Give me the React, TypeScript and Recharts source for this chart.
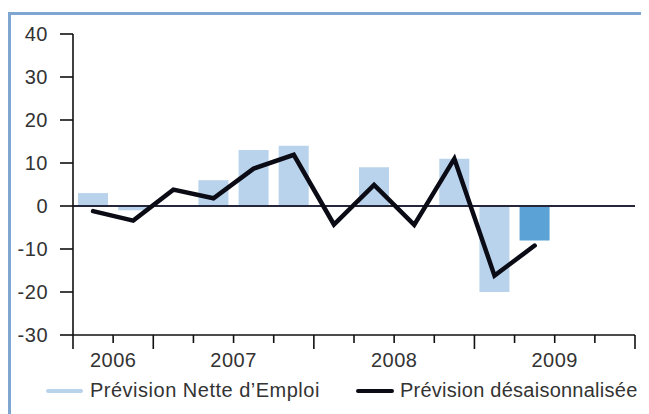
import React from 'react';
import { ComposedChart, Bar, Line, XAxis, YAxis, ReferenceLine, Legend, Cell } from 'recharts';

const quarters = ['T3 2006', 'T4 2006', 'T1 2007', 'T2 2007', 'T3 2007', 'T4 2007', 'T1 2008', 'T2 2008', 'T3 2008', 'T4 2008', 'T1 2009', 'T2 2009', 'T3 2009', 'T4 2009'];
const netForecast: (number | null)[] = [3, -1, null, 6, 13, 14, null, 9, null, 11, -20, -8, null, null];
const seasonalAdjusted: (number | null)[] = [-1.2, -3.4, 3.8, 1.8, 8.7, 11.9, -4.3, 4.9, -4.4, 11, -16.2, -9.2, null, null];
const currentIndex = 11;
const xTicks = [0, 1, 2, 3, 4, 5, 6, 7, 8, 9, 10, 11, 12, 13, 14];
const yearBoundaryTicks = [0, 2, 6, 10, 14];
const yearLabels: Record<number, string> = { 1: '2006', 4: '2007', 8: '2008', 12: '2009' };
const yTicks = [-30, -20, -10, 0, 10, 20, 30, 40];
const seriesNames = ['Prévision Nette d\u2019Emploi', 'Prévision désaisonnalisée'];

const data = quarters.map((q, i) => ({
  q,
  x: i + 0.5,
  net: netForecast[i],
  adj: seasonalAdjusted[i],
}));

const FONT = '"Liberation Sans", Arial, sans-serif';
const LIGHT = '#b8d3eb';
const DARK_BAR = '#5ba2d6';
const LINE = '#0b0b16';
const TEXT = '#333333';

const XTick = (props: any) => {
  const { x, y, payload } = props;
  const v = payload.value;
  const long = yearBoundaryTicks.includes(v);
  const label = yearLabels[v];
  return (
    <g>
      <line x1={x} x2={x} y1={y} y2={y + (long ? 14 : 8)} stroke="#111" strokeWidth={1.6} />
      {label ? (
        <text x={x} y={y + 32} textAnchor="middle" fontSize={20} fontFamily={FONT} fill={TEXT} style={{ letterSpacing: 0.5 }}>
          {label}
        </text>
      ) : null}
    </g>
  );
};

const LegendContent = () => (
  <div style={{ position: 'relative', height: 31, width: 641, fontFamily: FONT, fontSize: 20, color: TEXT }}>
    <div style={{ position: 'absolute', left: 38, top: 14, width: 37, height: 4, background: LIGHT, borderRadius: 2 }} />
    <div style={{ position: 'absolute', left: 82, top: 3, lineHeight: '24px', whiteSpace: 'nowrap', letterSpacing: 0.5 }}>{seriesNames[0]}</div>
    <div style={{ position: 'absolute', left: 348, top: 14, width: 38, height: 4, background: LINE, borderRadius: 2 }} />
    <div style={{ position: 'absolute', left: 392, top: 3, lineHeight: '24px', whiteSpace: 'nowrap', letterSpacing: 0.25 }}>{seriesNames[1]}</div>
  </div>
);

export default function App() {
  return (
    <div style={{ position: 'relative', width: 641, height: 406, overflow: 'hidden', background: '#fff' }}>
      <div
        style={{
          position: 'absolute',
          left: 0,
          top: 4,
          width: 700,
          height: 500,
          borderTop: '3px solid #7ea6d0',
          borderLeft: '3px solid #7ea6d0',
          boxSizing: 'border-box',
        }}
      />
      <div style={{ position: 'absolute', left: 0, top: 0 }}>
        <ComposedChart width={641} height={398} data={data} margin={{ top: 26, right: 14, bottom: 0, left: 0 }}>
          <XAxis
            type="number"
            dataKey="x"
            domain={[0, 14]}
            ticks={xTicks}
            interval={0}
            tickSize={0}
            tickMargin={0}
            tickLine={false}
            tick={<XTick />}
            axisLine={{ stroke: '#111', strokeWidth: 1.6 }}
            height={40}
          />
          <YAxis
            type="number"
            domain={[-30, 40]}
            ticks={yTicks}
            interval={0}
            width={65}
            tickSize={13}
            tickMargin={12}
            tick={{ fontSize: 20, fontFamily: FONT, fill: TEXT, style: { letterSpacing: 0.5 } }}
            tickLine={{ stroke: '#111', strokeWidth: 1.6 }}
            axisLine={{ stroke: '#111', strokeWidth: 1.6 }}
          />
          <Bar dataKey="net" name={seriesNames[0]} barSize={30} isAnimationActive={false}>
            {data.map((d, i) => (
              <Cell key={d.q} fill={i === currentIndex ? DARK_BAR : LIGHT} />
            ))}
          </Bar>
          <ReferenceLine y={0} stroke="#26263a" strokeWidth={2} />
          <Line
            type="linear"
            dataKey="adj"
            name={seriesNames[1]}
            stroke={LINE}
            strokeWidth={4.5}
            strokeLinejoin="miter"
            strokeLinecap="round"
            dot={false}
            activeDot={false}
            isAnimationActive={false}
          />
          <Legend verticalAlign="bottom" align="left" height={31} wrapperStyle={{ left: 0, width: 641 }} content={<LegendContent />} />
        </ComposedChart>
      </div>
    </div>
  );
}
